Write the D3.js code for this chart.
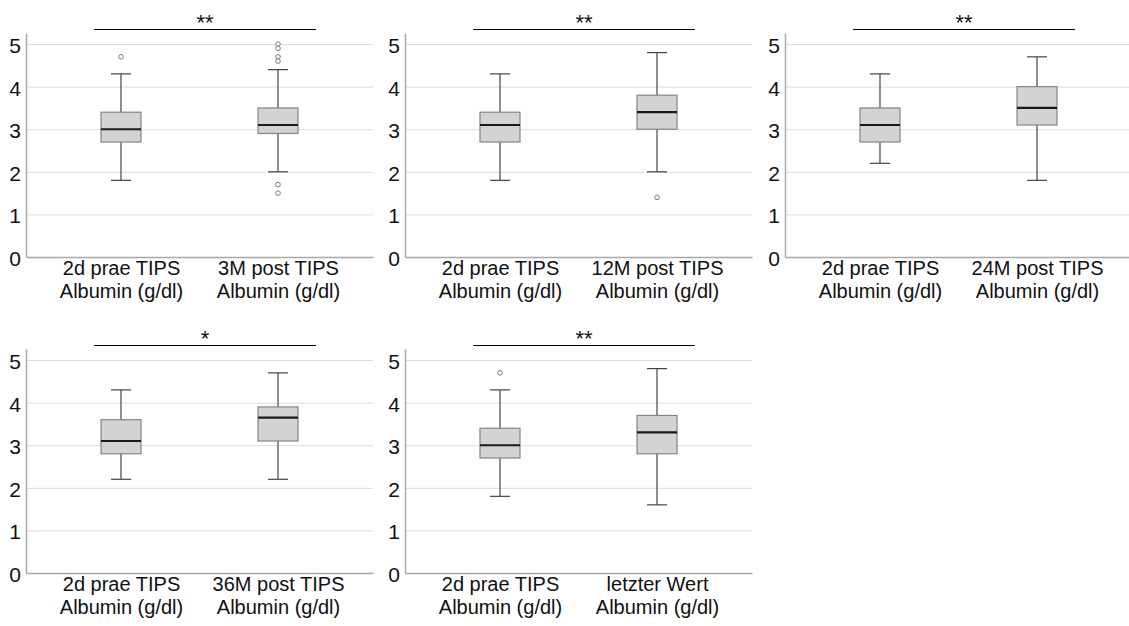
<!DOCTYPE html>
<html>
<head>
<meta charset="utf-8">
<script src="https://cdn.jsdelivr.net/npm/d3@7"></script>
<style>
  html, body { margin: 0; padding: 0; background: #fff; }
  svg { display: block; font-family: "Liberation Sans", Arial, sans-serif; }
</style>
</head>
<body>
<svg id="chart" width="1129" height="626"></svg>
<script>
// Albumin (g/dl) before TIPS vs. follow-up time points
const preLabel = "2d prae TIPS";
const postLabels = ["3M post TIPS", "12M post TIPS", "24M post TIPS", "36M post TIPS", "letzter Wert"];
const unitLabel = "Albumin (g/dl)";
const significance = ["**", "**", "**", "*", "**"];

// box statistics: [lower whisker, Q1, median, Q3, upper whisker]
const preStats = [
  [1.8, 2.7, 3.0, 3.4, 4.3],
  [1.8, 2.7, 3.1, 3.4, 4.3],
  [2.2, 2.7, 3.1, 3.5, 4.3],
  [2.2, 2.8, 3.1, 3.6, 4.3],
  [1.8, 2.7, 3.0, 3.4, 4.3]
];
const postStats = [
  [2.0, 2.9, 3.1, 3.5, 4.4],
  [2.0, 3.0, 3.4, 3.8, 4.8],
  [1.8, 3.1, 3.5, 4.0, 4.7],
  [2.2, 3.1, 3.65, 3.9, 4.7],
  [1.6, 2.8, 3.3, 3.7, 4.8]
];
const preOutliers = [[4.7], [], [], [], [4.7]];
const postOutliers = [[5.0, 4.9, 4.7, 4.6, 1.7, 1.5], [1.4], [], [], []];
const yTicks = [0, 1, 2, 3, 4, 5];

const svg = d3.select("#chart");
const plotW = 347, yBottom = 257, yTop = 33;
const colX = [26, 405, 785];
const rowY = [0, 316];
const boxW = 40, capW = 20;

const y = d3.scaleLinear().domain([0, 5.26]).range([yBottom, yTop]);

postLabels.forEach((post, i) => {
  const g = svg.append("g")
    .attr("transform", `translate(${colX[i % 3]},${rowY[Math.floor(i / 3)]})`);

  const cats = [preLabel, post];
  const x = d3.scalePoint().domain(cats).range([0, plotW]).padding(0.605);

  // horizontal grid
  g.append("g")
    .call(d3.axisLeft(y).tickValues(yTicks.filter(t => t > 0)).tickSize(-plotW).tickFormat(""))
    .call(a => a.select(".domain").remove())
    .call(a => a.selectAll("line").attr("stroke", "#dcdcdc").attr("stroke-width", 1));

  // y axis
  g.append("g")
    .call(d3.axisLeft(y).tickValues(yTicks).tickSize(0).tickPadding(5).tickFormat(d3.format("d")))
    .call(a => a.select(".domain").attr("stroke", "#a8a8a8").attr("stroke-width", 1.5))
    .call(a => a.selectAll("text").attr("font-size", 21).attr("fill", "#111")
      .attr("font-family", "'Liberation Sans', Arial, sans-serif").attr("dy", "0.4em"));

  // x axis baseline and two-line category labels
  const xa = g.append("g").attr("transform", `translate(0,${yBottom})`)
    .call(d3.axisBottom(x).tickSize(0).tickPadding(0).tickFormat(""));
  xa.select(".domain").attr("stroke", "#a8a8a8").attr("stroke-width", 1.5);
  xa.selectAll(".tick").each(function (d) {
    const t = d3.select(this).append("text")
      .attr("text-anchor", "middle").attr("font-size", 20).attr("fill", "#111")
      .attr("font-family", "'Liberation Sans', Arial, sans-serif");
    t.append("tspan").attr("x", 0).attr("y", 18).text(d);
    t.append("tspan").attr("x", 0).attr("y", 41).text(unitLabel);
  });

  // boxplots
  const stats = [preStats[i], postStats[i]];
  const outs = [preOutliers[i], postOutliers[i]];
  cats.forEach((c, k) => {
    const [lo, q1, med, q3, hi] = stats[k];
    const cx = x(c);
    const b = g.append("g");
    b.append("line").attr("x1", cx).attr("x2", cx).attr("y1", y(hi)).attr("y2", y(q3))
      .attr("stroke", "#444").attr("stroke-width", 1.2);
    b.append("line").attr("x1", cx).attr("x2", cx).attr("y1", y(q1)).attr("y2", y(lo))
      .attr("stroke", "#444").attr("stroke-width", 1.2);
    [lo, hi].forEach(v => b.append("line")
      .attr("x1", cx - capW / 2).attr("x2", cx + capW / 2).attr("y1", y(v)).attr("y2", y(v))
      .attr("stroke", "#444").attr("stroke-width", 1.2));
    b.append("rect").attr("x", cx - boxW / 2).attr("width", boxW)
      .attr("y", y(q3)).attr("height", y(q1) - y(q3))
      .attr("fill", "#d3d3d3").attr("stroke", "#858585").attr("stroke-width", 1.2);
    b.append("line").attr("x1", cx - boxW / 2).attr("x2", cx + boxW / 2)
      .attr("y1", y(med)).attr("y2", y(med))
      .attr("stroke", "#1a1a1a").attr("stroke-width", 2.2);
    b.selectAll("circle.out").data(outs[k]).join("circle").attr("class", "out")
      .attr("cx", cx).attr("cy", v => y(v)).attr("r", 2.3)
      .attr("fill", "#fff").attr("stroke", "#7a7a7a").attr("stroke-width", 1);
  });

  // significance bracket
  const x1 = x(preLabel) - 27, x2 = x(post) + 38, ly = 29.5;
  g.append("line").attr("x1", x1).attr("x2", x2).attr("y1", ly).attr("y2", ly)
    .attr("stroke", "#000").attr("stroke-width", 1);
  g.append("text").attr("x", (x1 + x2) / 2).attr("y", ly)
    .attr("text-anchor", "middle").attr("font-size", 22).attr("fill", "#111")
    .text(significance[i]);
});
</script>
</body>
</html>
